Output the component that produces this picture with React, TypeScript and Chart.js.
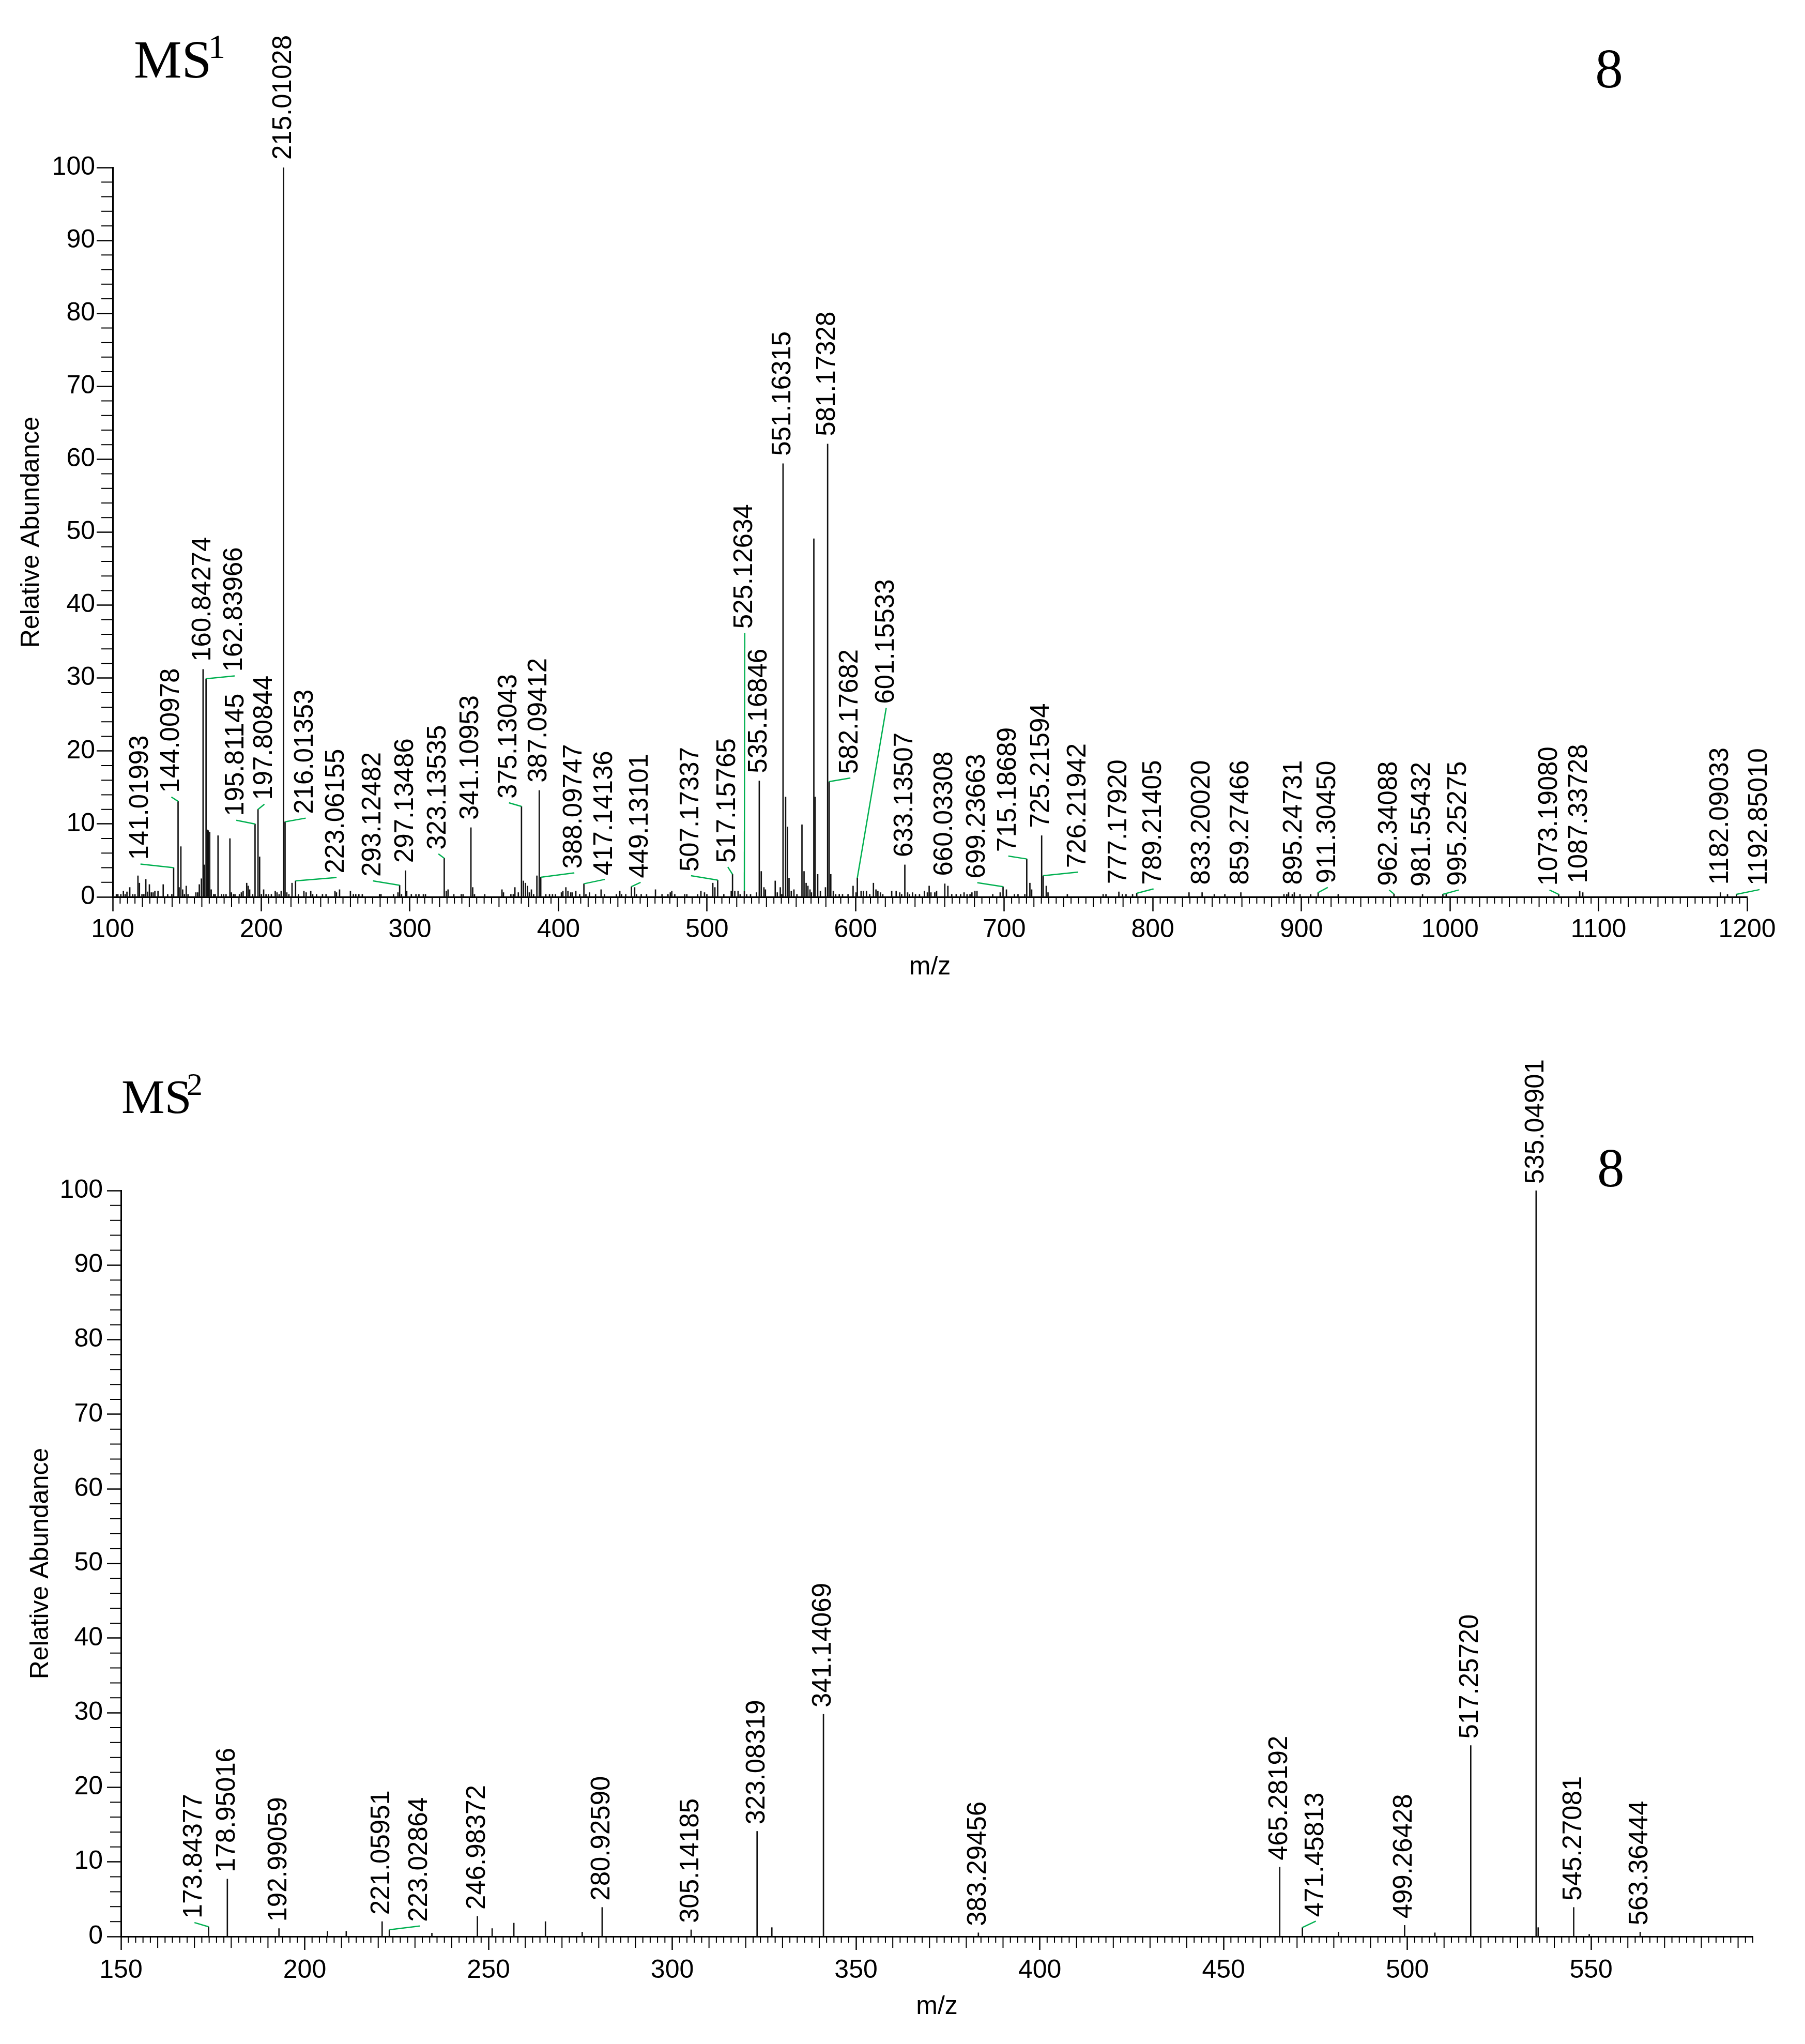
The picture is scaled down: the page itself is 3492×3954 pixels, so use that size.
import React, { useEffect, useRef } from 'react';
import { Chart, registerables } from 'chart.js';

Chart.register(...registerables);

const W = 3492;
const H1 = 1977;
const H2 = 1977;
const SANS = '"Liberation Sans", Arial, sans-serif';
const SERIF = '"Liberation Serif", "Times New Roman", serif';
const LEADER = '#00b050';

type Label = [string, number, number | null, number | null];

// MS1: labelled peaks [label text (m/z), relative abundance, label anchor m/z, label anchor abundance]
const ms1Labels: Label[] = [
  ['141.01993', 4.0, 118.7, 4.5],
  ['144.00978', 13.1, 139.5, 13.7],
  ['160.84274', 31.2, null, null],
  ['162.83966', 29.9, 182.1, 30.3],
  ['195.81145', 10.0, 183.2, 10.5],
  ['197.80844', 12.0, 202.1, 12.7],
  ['215.01028', 100, null, null],
  ['216.01353', 10.3, 229.9, 10.8],
  ['223.06155', 2.2, 250.7, 2.65],
  ['293.12482', 1.6, 275.2, 2.2],
  ['297.13486', 3.6, null, null],
  ['323.13535', 5.3, 319.2, 5.9],
  ['341.10953', 9.5, null, null],
  ['375.13043', 12.4, 366.7, 12.9],
  ['387.09412', 14.6, null, null],
  ['388.09747', 2.7, 410.7, 3.3],
  ['417.14136', 1.8, 431.2, 2.4],
  ['449.13101', 1.4, 455.3, 2.0],
  ['507.17337', 2.3, 489.2, 2.9],
  ['517.15765', 3.1, 514.0, 4.1],
  ['525.12634', 0.8, 525.4, 36.2],
  ['535.16846', 15.9, null, null],
  ['551.16315', 59.4, null, null],
  ['581.17328', 62.1, null, null],
  ['582.17682', 15.8, 596.5, 16.3],
  ['601.15533', 2.6, 620.6, 25.9],
  ['633.13507', 4.4, null, null],
  ['660.03308', 1.8, null, null],
  ['699.23663', 1.4, 681.9, 1.95],
  ['715.18689', 5.2, 702.8, 5.6],
  ['725.21594', 8.4, null, null],
  ['726.21942', 2.9, 749.8, 3.4],
  ['777.17920', 0.7, null, null],
  ['789.21405', 0.5, 800.5, 1.1],
  ['833.20020', 0.6, null, null],
  ['859.27466', 0.6, null, null],
  ['895.24731', 0.6, null, null],
  ['911.30450', 0.6, 917.8, 1.3],
  ['962.34088', 0.4, 959.1, 0.95],
  ['981.55432', 0.35, null, null],
  ['995.25275', 0.35, 1005.9, 0.95],
  ['1073.19080', 0.35, 1067.0, 0.95],
  ['1087.33728', 0.8, null, null],
  ['1182.09033', 0.6, null, null],
  ['1192.85010', 0.35, 1208.4, 1.0],
];

// MS1: unlabelled peaks [m/z, relative abundance]
const ms1OtherPeaks: [number, number][] = [
  [100.4, 0.35], [102.5, 0.35], [103.5, 0.35], [105.5, 0.35], [107.2, 0.8], [108.4, 0.35], [109.6, 0.7],
  [111.5, 1.3], [113.5, 0.35], [115.0, 0.35], [117.0, 2.9], [118.0, 1.9], [119.7, 0.35], [121.0, 0.35],
  [122.3, 2.4], [123.5, 0.7], [124.7, 1.7], [126.0, 0.6], [127.2, 0.6], [128.4, 0.8], [130.5, 0.8],
  [134.0, 1.7], [137.0, 0.35], [139.8, 0.35], [144.7, 1.3], [145.9, 6.9], [147.1, 1.0], [148.3, 0.35],
  [149.5, 1.5], [150.7, 0.35], [156.0, 0.6], [157.2, 0.6], [158.3, 1.7], [159.7, 2.5], [161.7, 4.4],
  [163.7, 9.2], [164.3, 9.1], [165.3, 8.9], [166.3, 1.0], [168.0, 0.35], [169.0, 0.35], [170.9, 8.4],
  [173.3, 0.35], [174.7, 0.35], [176.3, 0.35], [178.9, 8.0], [179.9, 0.6], [181.3, 0.35], [182.3, 0.35],
  [185.3, 0.35], [186.6, 0.6], [187.8, 0.8], [190.2, 1.9], [191.2, 1.5], [192.2, 1.0], [194.2, 0.35],
  [198.9, 5.5], [200.1, 0.35], [201.6, 1.0], [203.2, 0.35], [204.8, 0.35], [206.8, 0.35], [209.4, 0.8],
  [210.6, 0.6], [212.0, 0.35], [213.4, 0.8], [217.2, 0.6], [218.6, 0.35], [220.7, 1.9], [225.0, 0.35],
  [228.7, 0.8], [230.2, 0.6], [233.3, 0.8], [234.6, 0.35], [237.2, 0.35], [241.2, 0.35], [243.6, 0.35],
  [249.6, 0.8], [250.6, 0.6], [252.7, 1.0], [260.0, 0.8], [262.0, 0.35], [263.6, 0.35], [265.7, 0.35],
  [268.0, 0.35], [279.6, 0.35], [280.6, 0.35], [289.0, 0.35], [292.0, 0.6], [294.4, 0.35], [297.9, 0.8],
  [301.0, 0.35], [304.1, 0.35], [306.1, 0.35], [309.1, 0.35], [310.5, 0.35], [324.5, 0.8], [325.7, 1.0],
  [329.6, 0.35], [334.6, 0.35], [335.8, 0.35], [342.3, 1.3], [343.5, 0.35], [350.4, 0.35], [362.0, 1.0],
  [363.0, 0.6], [368.0, 0.35], [369.6, 0.35], [370.7, 1.3], [373.0, 0.6], [376.4, 2.2], [377.8, 1.9],
  [379.2, 1.5], [380.4, 0.6], [381.8, 1.0], [383.3, 0.35], [385.5, 2.9], [391.5, 0.35], [394.0, 0.35],
  [396.0, 0.35], [398.0, 0.35], [402.0, 0.6], [403.0, 0.8], [405.0, 1.3], [406.4, 0.8], [408.3, 0.6],
  [409.3, 0.6], [411.7, 0.8], [414.3, 0.35], [418.5, 0.35], [420.9, 0.6], [425.0, 0.35], [428.7, 1.0],
  [431.0, 0.35], [439.0, 0.35], [441.3, 0.8], [442.5, 0.35], [445.3, 0.35], [451.3, 1.3], [452.5, 0.35],
  [455.7, 0.35], [459.3, 0.35], [465.3, 1.0], [469.7, 0.35], [473.7, 0.35], [475.3, 0.6], [476.3, 0.8],
  [478.3, 0.35], [485.0, 0.35], [486.4, 0.35], [493.7, 0.35], [495.9, 0.8], [498.3, 0.6], [499.9, 0.35],
  [503.9, 1.9], [505.3, 1.3], [511.3, 0.35], [516.3, 0.8], [518.7, 0.8], [520.9, 0.8], [522.3, 0.35],
  [526.7, 0.35], [529.3, 0.35], [533.3, 0.6], [536.5, 3.5], [538.3, 1.3], [539.3, 1.0], [545.9, 2.2],
  [547.3, 0.6], [549.3, 1.3], [550.3, 0.35], [552.9, 13.7], [554.2, 9.6], [555.2, 2.6], [556.7, 0.8],
  [558.5, 1.0], [560.5, 0.35], [563.9, 9.9], [565.3, 3.5], [566.7, 1.9], [567.9, 1.5], [569.3, 1.0],
  [570.3, 0.6], [571.9, 49.1], [572.7, 13.7], [574.5, 3.1], [576.3, 0.8], [579.7, 1.3], [583.3, 3.1],
  [585.0, 0.8], [586.6, 0.35], [589.0, 0.35], [591.2, 0.35], [594.9, 0.35], [598.3, 1.5], [600.3, 0.6],
  [603.7, 0.8], [605.3, 0.8], [607.3, 0.8], [609.5, 0.35], [612.0, 1.9], [613.7, 1.0], [615.0, 0.8],
  [616.7, 0.6], [618.3, 0.35], [624.3, 0.8], [627.3, 0.8], [629.7, 0.6], [631.0, 0.35], [635.0, 0.6],
  [636.3, 0.35], [638.3, 0.6], [640.3, 0.35], [643.0, 0.35], [646.3, 0.8], [648.3, 0.6], [649.5, 1.5],
  [650.7, 0.6], [653.3, 0.6], [654.5, 0.8], [662.1, 1.5], [664.7, 0.35], [667.7, 0.35], [670.7, 0.35],
  [673.0, 0.6], [675.0, 0.35], [677.0, 0.35], [678.3, 0.6], [680.3, 0.8], [681.7, 0.8], [692.3, 0.35],
  [697.3, 0.6], [701.5, 1.0], [706.9, 0.35], [709.3, 0.35], [713.9, 0.35], [717.3, 1.9], [718.5, 1.0],
  [728.3, 1.5], [729.5, 0.6], [742.5, 0.35], [766.6, 0.35], [768.5, 0.35], [779.6, 0.35], [782.0, 0.35],
  [786.4, 0.35], [824.4, 0.6], [841.4, 0.35], [848.5, 0.35], [888.3, 0.35], [890.2, 0.35], [891.4, 0.6],
  [893.9, 0.35], [899.1, 0.35], [906.3, 0.35], [924.8, 0.35], [997.5, 0.35], [1089.4, 0.6], [1186.8, 0.35],
];

// MS2: labelled peaks
const ms2Labels: Label[] = [
  ['173.84377', 1.3, 170.0, 1.86],
  ['178.95016', 7.7, null, null],
  ['192.99059', 1.07, null, null],
  ['221.05951', 2.0, null, null],
  ['223.02864', 0.9, 231.3, 1.4],
  ['246.98372', 2.7, null, null],
  ['280.92590', 3.9, null, null],
  ['305.14185', 0.9, null, null],
  ['323.08319', 14.1, null, null],
  ['341.14069', 29.8, null, null],
  ['383.29456', 0.5, null, null],
  ['465.28192', 9.3, null, null],
  ['471.45813', 1.2, 475.1, 2.05],
  ['499.26428', 1.5, null, null],
  ['517.25720', 25.6, null, null],
  ['535.04901', 100, null, null],
  ['545.27081', 3.9, null, null],
  ['563.36444', 0.6, null, null],
];

// MS2: unlabelled peaks
const ms2OtherPeaks: [number, number][] = [
  [206.2, 0.7], [211.3, 0.7], [234.6, 0.46], [251.0, 1.07], [256.9, 1.8], [265.5, 2.0],
  [275.5, 0.6], [327.1, 1.2], [481.3, 0.6], [507.5, 0.5], [535.6, 1.2], [549.5, 0.3],
];

// Axis ranges and tick steps
const ms1XRange = [100, 1200];
const ms1XSteps = [100, 20, 5]; // major, medium, minor
const ms2XRange = [150, 594];
const ms2XSteps = [50, 10, 2];

interface Spec {
  height: number;
  peaks: [number, number][];
  labels: Label[];
  xRange: number[];
  xSteps: number[];
  area: { left: number; right: number; top: number; bottom: number };
  yTitlePad: number;
  xTitlePad: number;
  xTickLen: number;
  xMedLen: number;
  xMinLen: number;
  xTickPad: number;
  yTickLen: number;
  yMinLen: number;
  yTickPad: number;
  directGap: number;
  titles: { text: string; size: number; x: number; y: number }[];
}

const topSpec: Spec = {
  height: H1,
  peaks: ms1OtherPeaks,
  labels: ms1Labels,
  xRange: ms1XRange,
  xSteps: ms1XSteps,
  area: { left: 218, right: 3380, top: 324, bottom: 1735 },
  yTitlePad: 31,
  xTitlePad: 76,
  xTickLen: 28,
  xMedLen: 20,
  xMinLen: 13,
  xTickPad: 6,
  yTickLen: 31,
  yMinLen: 22,
  yTickPad: 3,
  directGap: 15,
  titles: [
    { text: 'MS', size: 104, x: 259, y: 150 },
    { text: '1', size: 66, x: 403, y: 112 },
    { text: '8', size: 108, x: 3086, y: 169 },
  ],
};

const botSpec: Spec = {
  height: H2,
  peaks: ms2OtherPeaks,
  labels: ms2Labels,
  xRange: ms2XRange,
  xSteps: ms2XSteps,
  area: { left: 234, right: 3391, top: 326, bottom: 1769 },
  yTitlePad: 49,
  xTitlePad: 42,
  xTickLen: 26,
  xMedLen: 22,
  xMinLen: 12,
  xTickPad: 10,
  yTickLen: 27,
  yMinLen: 21,
  yTickPad: 8,
  directGap: 13,
  titles: [
    { text: 'MS', size: 94, x: 235, y: 176 },
    { text: '2', size: 62, x: 361, y: 141 },
    { text: '8', size: 105, x: 3090, y: 318 },
  ],
};

function isMult(v: number, s: number) {
  return Math.abs(v / s - Math.round(v / s)) < 1e-6;
}

function buildChart(canvas: HTMLCanvasElement, spec: Spec) {
  const [xMin, xMax] = spec.xRange;
  const [xMajor, xMedium, xMinor] = spec.xSteps;
  const points = [
    ...spec.labels.map((l) => ({ x: Number(l[0]), y: l[1] })),
    ...spec.peaks.map((p) => ({ x: p[0], y: p[1] })),
  ].sort((a, b) => a.x - b.x);

  const decor = {
    id: 'msDecor',
    afterDraw(chart: any) {
      const { ctx, chartArea: a } = chart;
      const xs = chart.scales.x;
      const ys = chart.scales.y;
      ctx.save();
      // minor / medium tick marks
      ctx.strokeStyle = '#000';
      ctx.lineWidth = 2;
      ctx.beginPath();
      const n = Math.round((xMax - xMin) / xMinor);
      for (let i = 0; i <= n; i++) {
        const v = xMin + i * xMinor;
        if (isMult(v, xMajor)) continue;
        const len = isMult(v, xMedium) ? spec.xMedLen : spec.xMinLen;
        const px = xs.getPixelForValue(v);
        ctx.moveTo(px, a.bottom);
        ctx.lineTo(px, a.bottom + len);
      }
      for (let v = 2; v < 100; v += 2) {
        if (v % 10 === 0) continue;
        const py = ys.getPixelForValue(v);
        ctx.moveTo(a.left - spec.yMinLen, py);
        ctx.lineTo(a.left, py);
      }
      ctx.stroke();

      // peak labels with leaders
      ctx.font = `51px ${SANS}`;
      ctx.fillStyle = '#000';
      ctx.textAlign = 'left';
      ctx.textBaseline = 'middle';
      for (const [text, h, lx, ly] of spec.labels) {
        const mz = Number(text);
        const px = xs.getPixelForValue(mz);
        const py = ys.getPixelForValue(h);
        let tx = px;
        let ty = py;
        let gap = spec.directGap;
        if (lx !== null && ly !== null) {
          tx = xs.getPixelForValue(lx);
          ty = ys.getPixelForValue(ly);
          gap = 8;
          ctx.strokeStyle = LEADER;
          ctx.lineWidth = 2.5;
          ctx.beginPath();
          ctx.moveTo(px, py);
          ctx.lineTo(tx, ty);
          ctx.stroke();
        }
        ctx.save();
        ctx.translate(tx, ty - gap);
        ctx.rotate(-Math.PI / 2);
        ctx.fillText(text, 0, 0);
        ctx.restore();
      }

      // panel titles
      ctx.textBaseline = 'alphabetic';
      ctx.textAlign = 'left';
      for (const t of spec.titles) {
        ctx.font = `${t.size}px ${SERIF}`;
        ctx.fillText(t.text, t.x, t.y);
      }
      ctx.restore();
    },
  };

  const axisFont = { family: SANS, size: 50 };

  return new Chart(canvas, {
    type: 'bar',
    data: {
      datasets: [
        {
          data: points as any,
          backgroundColor: '#111',
          borderWidth: 0,
          barThickness: 2,
          grouped: false,
        } as any,
      ],
    },
    options: {
      animation: false,
      responsive: false,
      maintainAspectRatio: false,
      devicePixelRatio: 1,
      events: [],
      layout: {
        padding: { left: 0, top: spec.area.top, right: W - spec.area.right, bottom: 0 },
      },
      plugins: {
        legend: { display: false },
        tooltip: { enabled: false },
        title: { display: false },
      },
      scales: {
        x: {
          type: 'linear',
          position: 'bottom',
          min: xMin,
          max: xMax,
          offset: false,
          afterFit: (s: any) => {
            s.height = spec.height - spec.area.bottom;
          },
          ticks: {
            stepSize: xMajor,
            includeBounds: false,
            autoSkip: false,
            maxRotation: 0,
            minRotation: 0,
            color: '#000',
            font: axisFont,
            padding: spec.xTickPad,
            callback: (v: any) => String(v),
          },
          grid: {
            display: true,
            offset: false,
            drawOnChartArea: false,
            drawTicks: true,
            tickLength: spec.xTickLen,
            tickWidth: 2.5,
            tickColor: '#000',
            color: '#000',
          },
          border: { display: true, color: '#000', width: 3 },
          title: {
            display: true,
            text: 'm/z',
            color: '#000',
            font: axisFont,
            padding: { top: 0, bottom: spec.xTitlePad },
          },
        } as any,
        y: {
          type: 'linear',
          position: 'left',
          min: 0,
          max: 100,
          afterFit: (s: any) => {
            s.width = spec.area.left;
          },
          ticks: {
            stepSize: 10,
            autoSkip: false,
            color: '#000',
            font: axisFont,
            padding: spec.yTickPad,
            callback: (v: any) => String(v),
          },
          grid: {
            display: true,
            drawOnChartArea: false,
            drawTicks: true,
            tickLength: spec.yTickLen,
            tickWidth: 2.5,
            tickColor: '#000',
            color: '#000',
          },
          border: { display: true, color: '#000', width: 3 },
          title: {
            display: true,
            text: 'Relative Abundance',
            color: '#000',
            font: axisFont,
            padding: { top: spec.yTitlePad, bottom: 0 },
          },
        } as any,
      },
    },
    plugins: [decor as any],
  });
}

export default function App() {
  const topRef = useRef<HTMLCanvasElement>(null);
  const botRef = useRef<HTMLCanvasElement>(null);

  useEffect(() => {
    const c1 = buildChart(topRef.current as HTMLCanvasElement, topSpec);
    const c2 = buildChart(botRef.current as HTMLCanvasElement, botSpec);
    return () => {
      c1.destroy();
      c2.destroy();
    };
  }, []);

  return (
    <div
      style={{
        position: 'absolute',
        left: 0,
        top: 0,
        width: W,
        height: H1 + H2,
        background: '#fff',
      }}
    >
      <canvas ref={topRef} width={W} height={H1} style={{ display: 'block', width: W, height: H1 }} />
      <canvas ref={botRef} width={W} height={H2} style={{ display: 'block', width: W, height: H2 }} />
    </div>
  );
}
